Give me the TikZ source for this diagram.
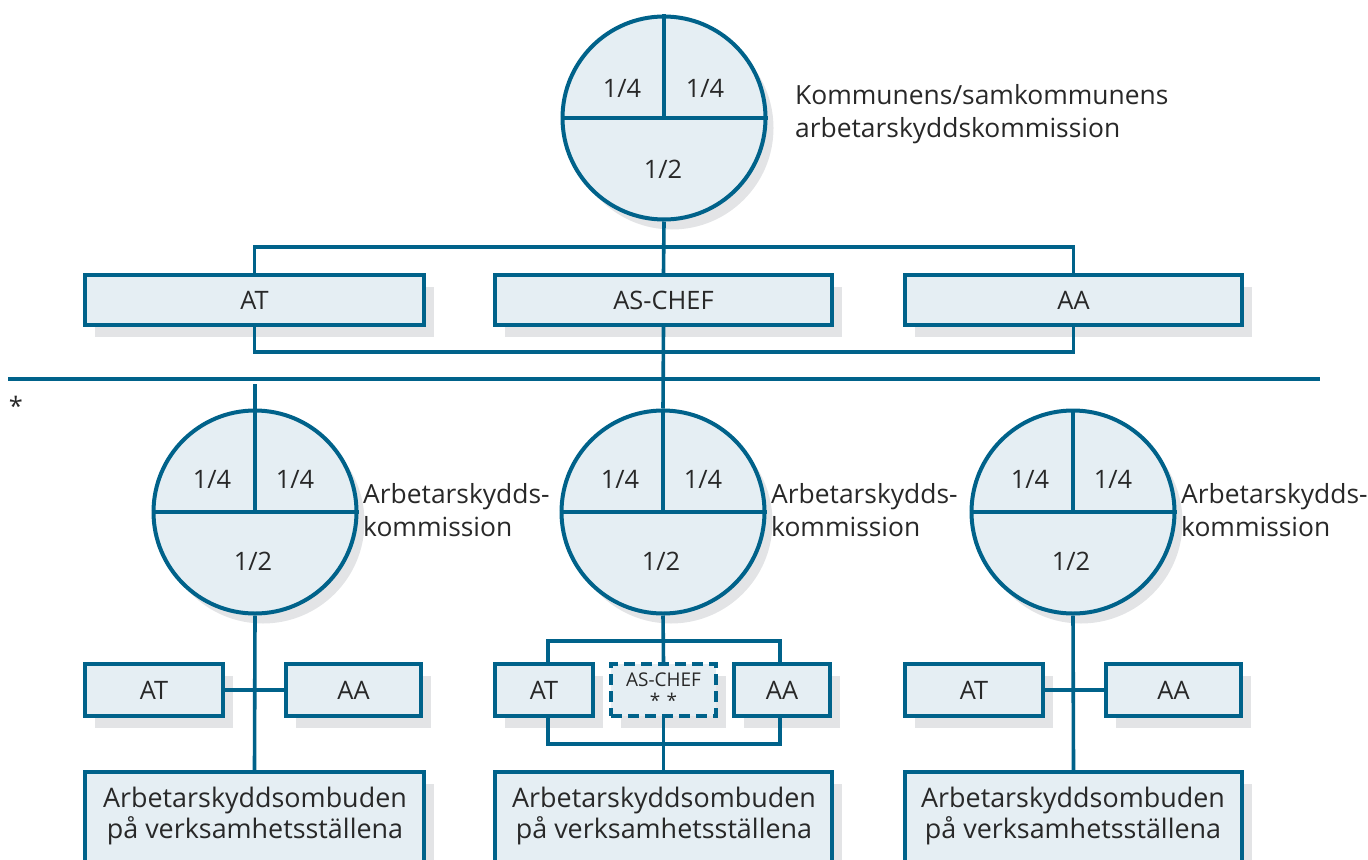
\documentclass[tikz,border=0pt]{standalone}
\usepackage{fontspec}
\setmainfont{Open Sans}
\usetikzlibrary{shadows}
\definecolor{bl}{RGB}{0,98,138}
\definecolor{lf}{RGB}{229,238,243}
\definecolor{sg}{RGB}{227,228,230}
\definecolor{tx}{RGB}{40,40,40}
\tikzset{
  ln/.style={draw=bl,line width=3.6bp},
  shd/.style={drop shadow={shadow xshift=10bp,shadow yshift=-12bp,opacity=1,fill=sg}},
  boxn/.style={draw=bl,fill=lf,line width=4bp,rectangle,inner sep=0pt,shd,text=tx,font=\fontsize{25.5}{30}\selectfont},
  circn/.style={draw=bl,fill=lf,line width=4bp,circle,inner sep=0pt,minimum size=203bp,
     drop shadow={shadow xshift=8bp,shadow yshift=-10bp,opacity=1,fill=sg}},
  txt/.style={text=tx,font=\fontsize{25.5}{32}\selectfont,inner sep=0pt},
  lbl/.style={text=tx,font=\fontsize{26.5}{33}\selectfont,inner sep=0pt,align=left,anchor=west},
}
\begin{document}
\begin{tikzpicture}[x=1bp,y=-1bp]
\useasboundingbox (0,0) rectangle (1368,859);
\clip (0,0) rectangle (1368,859);
% ---------- top circle
\node[circn] (c0) at (664,118) {};
\draw[ln] (c0.west) -- (c0.east);
\draw[ln] (c0.center) -- (c0.north);
\node[txt] (c0a) at (622,88) {1/4};
\node[txt] (c0b) at (705,88) {1/4};
\node[txt] (c0c) at (663,169) {1/2};
\node[lbl] (c0l) at (795,114) {Kommunens/samkommunens\\arbetarskyddskommission};
% ---------- top boxes
\node[boxn,minimum width=339bp,minimum height=50bp] (ATt) at (254.5,300) {AT};
\node[boxn,minimum width=337bp,minimum height=50bp] (ASt) at (663.5,300) {AS-CHEF};
\node[boxn,minimum width=337bp,minimum height=50bp] (AAt) at (1073.5,300) {AA};
\coordinate (tb) at (664,247);
\coordinate (bb) at (664,352);
\draw[ln] (ATt.north) |- (tb) -| (AAt.north);
\draw[ln] (c0.south) -- (ASt.north);
\draw[ln] (ATt.south) |- (bb) -| (AAt.south);
% ---------- divider
\coordinate (dl) at (8,379);
\coordinate (dr) at (1320,379);
\draw[ln] (dl) -- (dr);
\node[txt] (star) at (16,406) {*};
% ---------- lower circles
\foreach \n/\x in {c1/255,c2/663,c3/1073}{
  \node[circn] (\n) at (\x,512) {};
  \draw[ln] (\n.west) -- (\n.east);
  \draw[ln] (\n.center) -- (\n.north);
  \node[txt] (\n a) at (\x-43,479) {1/4};
  \node[txt] (\n b) at (\x+40,479) {1/4};
  \node[txt] (\n c) at (\x-2,561) {1/2};
  \node[lbl] (\n l) at (\x+108,510) {Arbetarskydds-\\kommission};
}
\coordinate (lv) at (255,384);
\draw[ln] (lv) -- (c1.north);
\draw[ln] (ASt.south) -- (c2.north);
% ---------- small boxes
\node[boxn,minimum width=138bp,minimum height=52bp] (AT1) at (154,690) {AT};
\node[boxn,minimum width=135bp,minimum height=52bp] (AA1) at (353.5,690) {AA};
\node[boxn,minimum width=98bp,minimum height=52bp] (AT2) at (544,690) {AT};
\node[boxn,dashed,dash pattern=on 11bp off 6bp,minimum width=105bp,minimum height=52bp,
      font=\fontsize{19}{22}\selectfont,align=center] (AS2) at (663.5,690) {AS-CHEF\\[-1pt]*\,\,*};
\node[boxn,minimum width=96bp,minimum height=52bp] (AA2) at (782,690) {AA};
\node[boxn,minimum width=138bp,minimum height=52bp] (AT3) at (974,690) {AT};
\node[boxn,minimum width=135bp,minimum height=52bp] (AA3) at (1173.5,690) {AA};
% ---------- bottom boxes
\node[boxn,minimum width=339bp,minimum height=120bp,anchor=north] (P1) at (254.5,770) {};
\node[boxn,minimum width=337bp,minimum height=120bp,anchor=north] (P2) at (663.5,770) {};
\node[boxn,minimum width=337bp,minimum height=120bp,anchor=north] (P3) at (1073.5,770) {};
\foreach \p/\x in {P1/255,P2/664,P3/1073}{
  \node[txt,align=center,font=\fontsize{27}{32}\selectfont] (\p t) at (\x,816) {Arbetarskyddsombuden\\på verksamhetsställena};
}
% ---------- lower connectors
\draw[ln] (c1.south) -- (P1.north);
\draw[ln] (AT1.east) -- (AA1.west);
\draw[ln] (c3.south) -- (P3.north);
\draw[ln] (AT3.east) -- (AA3.west);
\draw[ln] (c2.south) -- (AS2.north);
\draw[ln] (AS2.south) -- (P2.north);
\coordinate (mt) at (664,641);
\coordinate (mb) at (664,744);
\draw[ln] ([xshift=4bp]AT2.north) |- (mt) -| ([xshift=-2bp]AA2.north);
\draw[ln] ([xshift=4bp]AT2.south) |- (mb) -| ([xshift=-2bp]AA2.south);
\end{tikzpicture}
\end{document}
